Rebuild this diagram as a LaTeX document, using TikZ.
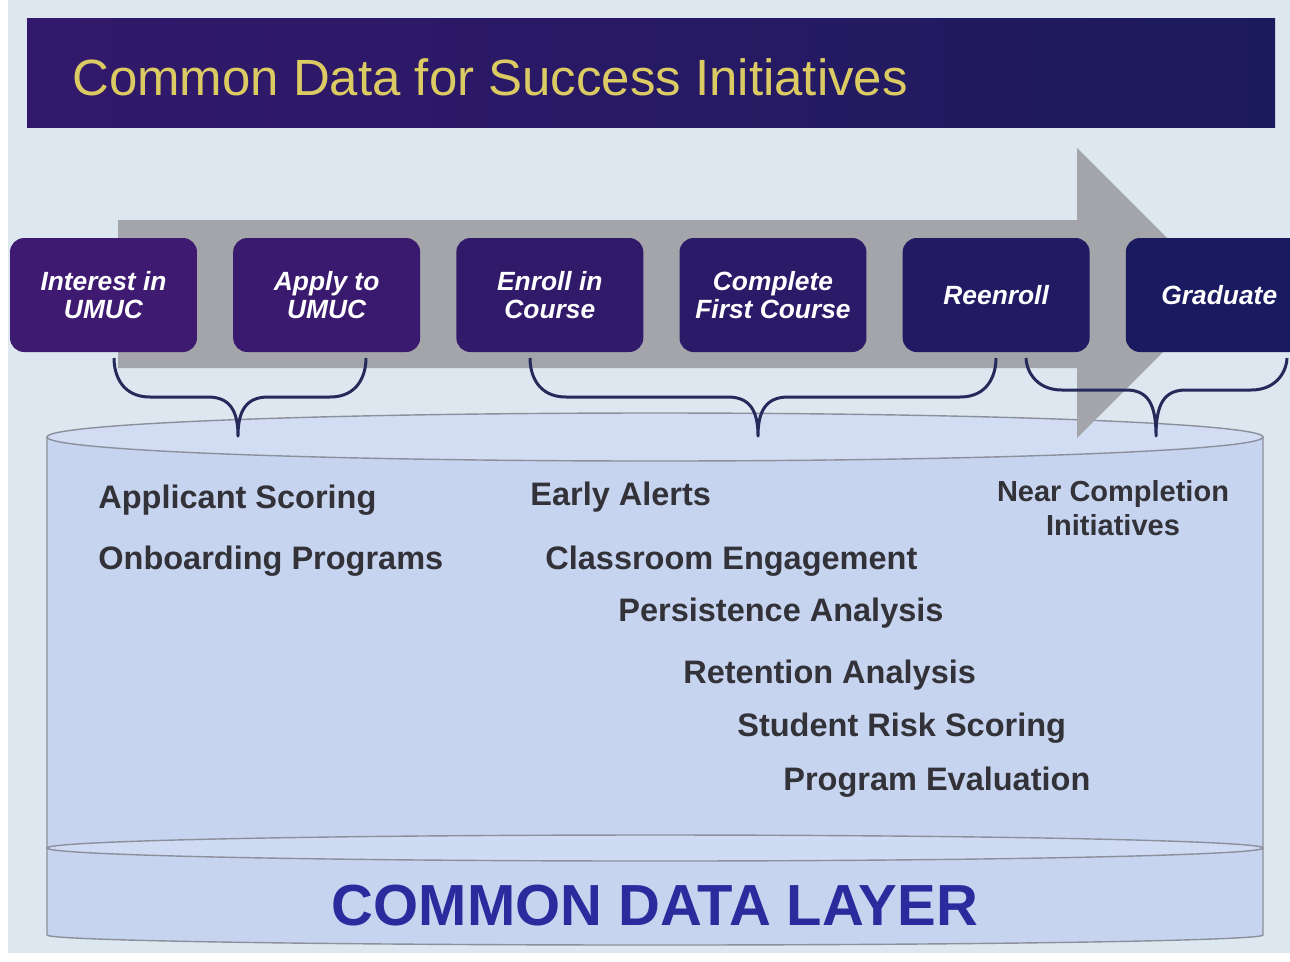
\documentclass[tikz,border=0pt]{standalone}
\usepackage{fontspec}
\setmainfont{Liberation Sans}
\usetikzlibrary{positioning}

\definecolor{slidebg}{HTML}{DDE7EF}
\definecolor{titlebarL}{HTML}{33196B}
\definecolor{titlebarR}{HTML}{1C1A5E}
\definecolor{titletext}{HTML}{DCCB62}
\definecolor{arrowgray}{HTML}{A4A4AB}
\definecolor{stepL}{HTML}{3E1A70}
\definecolor{stepR}{HTML}{1A1A60}
\definecolor{bracenavy}{HTML}{262A5A}
\definecolor{cylbody}{HTML}{C7D4F0}
\definecolor{cyltop}{HTML}{D2DCF3}
\definecolor{cylring}{HTML}{CFDAF3}
\definecolor{cylline}{HTML}{8C909C}
\definecolor{inittext}{HTML}{323238}
\definecolor{layertext}{HTML}{2C2B9E}

% left end, tip, right end, height of the flat part
\newcommand{\databrace}[4]{%
	\draw[bracepen] (#1,358) .. controls (#1,#4-22) and (#1+8,#4) .. (#1+36,#4)
		-- (#2-30,#4) .. controls (#2-8,#4) and (#2,#4+14) .. (#2,436)
		.. controls (#2,#4+14) and (#2+8,#4) .. (#2+30,#4)
		-- (#3-36,#4) .. controls (#3-8,#4) and (#3,#4-22) .. (#3,358);}

\begin{document}
\begin{tikzpicture}[x=0.02cm,y=-0.02cm,
		stepbox/.style={rounded corners=8pt, minimum width=3.74cm, minimum height=2.28cm,
			align=center, text=white, inner sep=2pt,
			font=\bfseries\itshape\fontsize{15}{16}\selectfont},
		initiative/.style={anchor=base west, inner sep=0pt, text=inittext,
			font=\bfseries\fontsize{18.5}{20}\selectfont},
		bracepen/.style={draw=bracenavy, line width=1.7pt, line join=round},
		cylrim/.style={draw=cylline, line width=0.8pt}]
	\useasboundingbox (0,0) rectangle (1290,961);
	\fill[white] (0,0) rectangle (1290,961);
	\fill[slidebg] (8,0) rectangle (1290,953);

	% title bar
	\shade[left color=titlebarL, right color=titlebarR] (27,18) rectangle (1275,127);
	\node[anchor=base west, inner sep=0pt, text=titletext, font=\fontsize{29}{32}\selectfont]
		(title) at (72,95) {Common Data for Success Initiatives};

	% the data layer
	\fill[cylbody] (47,437) rectangle (1263,935);
	\fill[cylbody] (655,935) ellipse [x radius=608, y radius=10];
	\draw[cylrim] (47,437) -- (47,935) arc[start angle=180, end angle=0, x radius=608, y radius=10] -- (1263,437);
	\draw[cylrim, fill=cylring] (655,848) ellipse [x radius=608, y radius=13];
	\draw[cylrim, fill=cyltop] (655,437) ellipse [x radius=608, y radius=24];

	% big arrow
	\fill[arrowgray] (118,220) -- (1077,220) -- (1077,148) -- (1222,293)
		-- (1077,438) -- (1077,368) -- (118,368) -- cycle;

	% the steps
	\node[stepbox, fill=stepL] (interest) at (103.5,295) {Interest in\\UMUC};
	\node[stepbox, fill=stepL!85!stepR, right=0.71cm of interest] (apply) {Apply to\\UMUC};
	\node[stepbox, fill=stepL!65!stepR, right=0.71cm of apply] (enroll) {Enroll in\\Course};
	\node[stepbox, fill=stepL!45!stepR, right=0.71cm of enroll] (complete) {Complete\\First Course};
	\node[stepbox, fill=stepL!25!stepR, right=0.71cm of complete] (reenroll) {Reenroll};
	\node[stepbox, fill=stepR, right=0.71cm of reenroll] (graduate) {Graduate};

	\databrace{114}{238}{366}{397}
	\databrace{530}{758}{996}{397}
	\databrace{1026}{1156}{1287}{390}

	% initiatives
	\node[initiative] (scoring) at (98,508) {Applicant Scoring};
	\node[initiative] (onboarding) at (98,569) {Onboarding Programs};
	\node[initiative] (alerts) at (530,505) {Early Alerts};
	\node[initiative] (engagement) at (545,569) {Classroom Engagement};
	\node[initiative] (persistence) at (618,621) {Persistence Analysis};
	\node[initiative] (retention) at (683,683) {Retention Analysis};
	\node[initiative] (risk) at (737,736) {Student Risk Scoring};
	\node[initiative] (evaluation) at (783,790) {Program Evaluation};
	\node[inner sep=0pt, align=center, text=inittext, font=\bfseries\fontsize{16.5}{19.5}\selectfont]
		(near) at (1113,508) {Near Completion\\Initiatives};

	\node[anchor=base, inner sep=0pt, text=layertext, font=\bfseries\fontsize{33}{36}\selectfont]
		(layer) at (655,925) {COMMON DATA LAYER};
\end{tikzpicture}
\end{document}
